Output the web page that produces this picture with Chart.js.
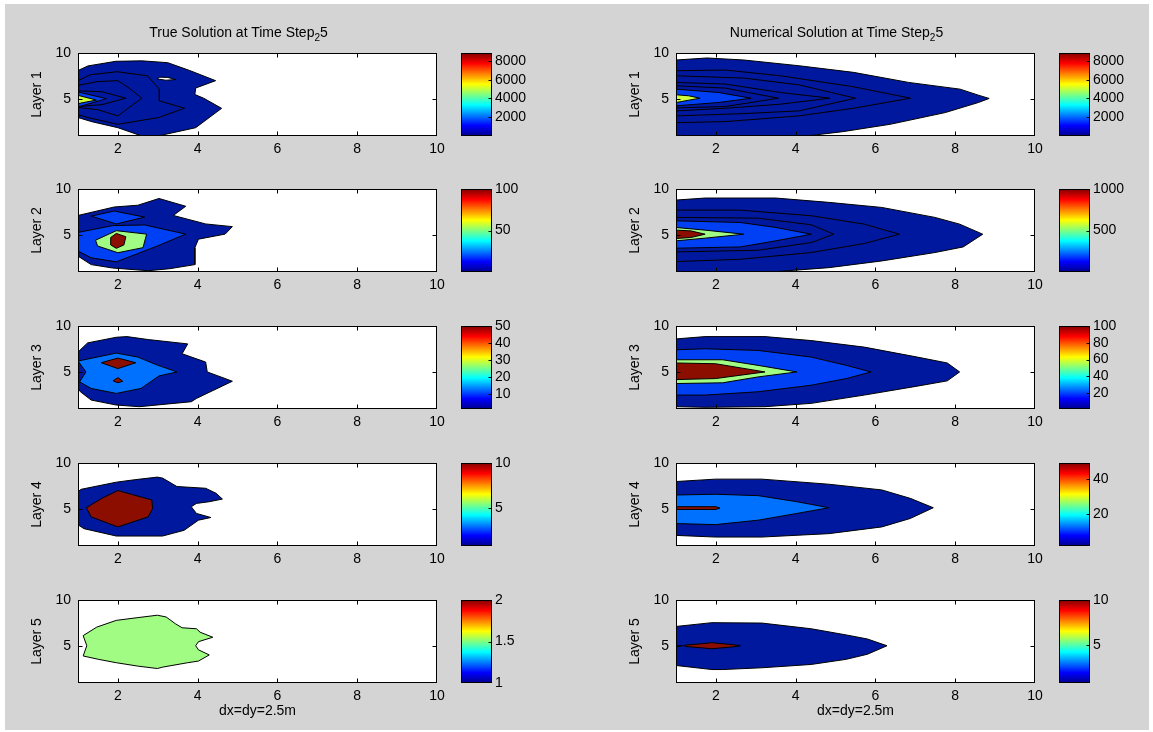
<!DOCTYPE html>
<html><head><meta charset="utf-8">
<script src="https://cdn.jsdelivr.net/npm/chart.js@4.4.1/dist/chart.umd.min.js"></script>
<style>
html,body{margin:0;padding:0;background:#fff;width:1153px;height:732px;overflow:hidden;}
#fig{position:absolute;left:5px;top:4px;width:1144px;height:726px;background:#d4d4d4;}
canvas{position:absolute;}
.ttl{position:absolute;top:24px;height:16px;line-height:16px;white-space:nowrap;transform:translateX(-50%);
 font-family:'Liberation Sans',Arial,Helvetica,sans-serif;font-size:14px;color:#000;}
.ttl sub{font-size:10px;vertical-align:-4px;line-height:0;}
</style></head><body>
<div id="fig"></div>
<script>
// ---------- tick labels / texts ----------
const X_TICKS = [2,4,6,8,10];
const Y_TICKS = [5,10];
const ROW_LABELS = ['Layer 1','Layer 2','Layer 3','Layer 4','Layer 5'];
const X_LABEL = 'dx=dy=2.5m';
const TITLE_MAIN = ['True Solution at Time Step','Numerical Solution at Time Step'];
const TITLE_SUB = '2';
const TITLE_END = '5';

// ---------- colorbar ranges and ticks ----------
const CB_RANGE_TRUE = [[0,8850],[0,100],[1,50],[0.8,10],[1,2]];
const CB_TICKS_TRUE = [[2000,4000,6000,8000],[50,100],[10,20,30,40,50],[5,10],[1,1.5,2]];
const CB_RANGE_NUM  = [[0,8850],[0,1000],[1,100],[2,49],[0.75,10]];
const CB_TICKS_NUM  = [[2000,4000,6000,8000],[500,1000],[20,40,60,80,100],[20,40],[5,10]];

// ---------- contour polygons (x, y) : True solution ----------
const T1_outer = [[1,8.1],[1.25,8.6],[1.95,9.1],[2.6,9.15],[3.25,8.95],[3.8,8.1],[4.45,7.0],[3.95,6.2],[3.93,5.5],[4.15,5.1],[4.6,4.0],[3.95,1.9],[3.0,1.0],[2.6,1.0],[2.0,1.9],[1.35,2.55],[1,3.0]];
const T1_hole  = [[2.98,7.2],[3.05,7.38],[3.25,7.35],[3.45,7.12],[3.2,7.05]];
const T1_c2    = [[1,7.0],[1.31,7.64],[1.98,7.97],[2.74,7.53],[3.04,6.08],[3.04,4.81],[3.67,4.01],[3.02,3.0],[2.0,2.27],[1.3,2.95],[1,3.3]];
const T1_c3    = [[1,6.5],[1.5,6.9],[2.0,7.0],[2.28,6.2],[2.6,5.1],[2.28,4.09],[2.0,3.18],[1.5,3.85],[1,4.1]];
const T1_c4    = [[1,5.9],[1.6,5.8],[2.2,5.1],[1.6,4.4],[1,4.2]];
const T1_blue  = [[1,5.77],[1.71,5.05],[1,4.15]];
const T1_peak  = [[1,5.41],[1.46,4.9],[1,4.51]];

const T2_outer = [[1,7.13],[1.91,8.05],[2.5,8.24],[3.03,8.97],[3.7,8.13],[3.39,7.13],[4.2,6.21],[4.87,5.92],[4.69,5.11],[4.02,4.56],[3.93,3.64],[3.93,1.8],[3.3,1.36],[2.76,1.14],[1.87,1.43],[1.33,1.8],[1,2.72]];
const T2_top   = [[1.33,7.06],[1.91,7.61],[2.67,6.95],[1.96,6.21]];
const T2_mid   = [[1,5.29],[1.87,6.03],[2.67,6.1],[3.7,5.11],[2.99,3.82],[1.96,2.1],[1.33,2.54],[1,3.27]];
const T2_green = [[1.44,4.45],[1.96,5.48],[2.72,5.11],[2.63,3.64],[2.0,3.09],[1.49,3.82]];
const T2_peak  = [[1.82,4.74],[1.96,5.18],[2.2,4.82],[2.15,3.93],[1.96,3.57],[1.82,3.93]];

const T3_outer = [[1,7.17],[1.24,8.17],[1.96,8.78],[2.23,8.85],[2.76,8.53],[3.75,8.06],[3.61,6.99],[4.2,6.09],[4.24,5.02],[4.87,4.01],[3.97,2.15],[3.84,1.79],[2.54,1.25],[1.96,1.43],[1.33,1.97],[1.06,2.87],[1,3.2]];
const T3_mid   = [[1,6.2],[1.96,7.06],[2.5,6.63],[2.94,5.84],[3.48,5.02],[3.03,4.59],[2.58,3.23],[1.96,2.69],[1.33,3.23],[1.04,3.94],[1.2,5.02]];
const T3_peakA = [[1.58,6.02],[2.0,6.52],[2.45,6.02],[2.0,5.38]];
const T3_peakB = [[1.88,4.05],[2.0,4.41],[2.12,4.01],[2.0,3.85]];

const T4_outer = [[1.08,7.15],[1.96,7.92],[2.41,8.18],[2.99,8.47],[3.12,8.36],[3.48,7.45],[4.2,7.26],[4.46,6.72],[4.62,6.09],[4.29,5.8],[3.97,5.62],[3.84,5.26],[3.97,4.53],[4.33,4.09],[4.02,3.8],[3.66,2.7],[3.12,2.08],[1.96,2.08],[1.15,2.88],[1,3.3],[1,6.9]];
const T4_peak  = [[1.21,5.15],[1.6,6.17],[2.0,7.01],[2.85,5.99],[2.87,5.07],[2.76,4.16],[2.0,3.07],[1.33,4.16]];

const T5_outer = [[1.13,6.14],[1.47,7.06],[1.96,7.79],[2.5,8.09],[2.99,8.35],[3.21,8.16],[3.44,7.43],[3.61,6.99],[3.97,6.88],[4.06,6.51],[4.38,5.96],[4.02,5.48],[3.95,5.04],[4.02,4.6],[4.29,4.04],[4.02,3.38],[3.75,3.2],[3.12,2.72],[2.99,2.57],[2.5,2.83],[1.96,3.2],[1.51,3.57],[1.13,3.93],[1.22,5.04]];

// ---------- contour polygons (x, y) : Numerical solution ----------
const N1_outer = [[1,9.24],[1.78,9.46],[2.7,9.24],[4.08,8.62],[5.45,7.9],[6.83,6.81],[8.12,6.08],[8.58,5.43],[8.85,5.07],[8.58,4.63],[7.75,3.54],[6.37,2.27],[5.18,1.47],[4.26,1.0],[1,1.0]];
const N1_c2    = [[1,8.08],[2.24,8.15],[3.62,7.53],[5.45,6.34],[6.88,5.1],[5.45,4.01],[4.08,3.18],[2.24,2.56],[1,2.45]];
const N1_c3    = [[1,7.53],[2.7,7.28],[4.08,6.55],[5.5,5.1],[4.08,3.72],[2.7,3.43],[1,3.18]];
const N1_c4    = [[1,6.81],[2.24,6.63],[3.62,5.72],[4.86,5.1],[3.62,4.45],[2.24,4.01],[1,3.72]];
const N1_c5    = [[1,6.45],[2.24,6.19],[3.57,5.1],[2.24,4.2],[1,4.05]];
const N1_blue  = [[1,6.08],[2.06,5.72],[2.88,5.1],[2.06,4.63],[1,4.27]];
const N1_peak  = [[1,5.47],[1.32,5.36],[1.6,5.1],[1.32,4.88],[1,4.63]];

const N2_outer = [[1,8.8],[1.73,9.02],[3.5,9.02],[4.83,8.55],[6.16,8.0],[7.49,6.92],[8.11,6.19],[8.69,5.1],[8.2,3.72],[7.49,3.11],[6.16,2.2],[4.83,1.47],[3.5,1.04],[3.5,1],[1,1]];
const N2_c2    = [[1,7.71],[2.61,7.71],[4.39,7.1],[5.72,6.19],[6.6,5.1],[5.72,4.09],[4.39,3.11],[2.61,2.38],[1,2.13]];
const N2_c3    = [[1,6.92],[3.06,6.84],[4.39,6.12],[4.96,5.1],[4.39,4.19],[3.06,3.36],[1,3.18]];
const N2_blue  = [[1,6.55],[2.61,6.37],[3.5,5.83],[4.39,5.1],[3.5,4.38],[2.61,3.72],[1,3.58]];
const N2_green = [[1,5.83],[1.73,5.54],[2.7,5.1],[1.73,4.67],[1,4.38]];
const N2_peak  = [[1,5.54],[1.37,5.46],[1.73,5.1],[1.37,4.74],[1,4.63]];

const N3_outer = [[1,8.6],[1.73,8.85],[3.23,8.85],[4.39,8.42],[5.72,7.71],[7.05,6.63],[7.8,5.99],[8.11,5.02],[7.8,4.05],[7.05,3.48],[5.72,2.51],[4.39,1.61],[3.23,1.25],[1.73,1.18],[1,1.25]];
const N3_blue  = [[1,7.42],[1.73,7.53],[3.06,7.35],[4.39,6.63],[5.27,5.73],[5.89,5.02],[5.27,4.3],[4.39,3.58],[3.06,2.87],[1.73,2.51],[1,2.51]];
const N3_green = [[1,6.34],[2.17,6.34],[3.06,5.73],[4.03,5.02],[3.06,4.48],[2.17,3.84],[1,3.76]];
const N3_peak  = [[1,5.99],[1.99,5.91],[3.23,5.02],[1.99,4.3],[1,4.19]];

const N4_outer = [[1,7.99],[1.99,8.25],[3.15,8.25],[4.83,7.7],[6.16,7.08],[6.87,6.17],[7.45,5.15],[6.87,3.98],[6.16,3.07],[4.83,2.34],[3.15,1.97],[1.99,1.97],[1,2.15]];
const N4_blue  = [[1,6.53],[1.99,6.61],[3.06,6.46],[4.03,5.8],[4.83,5.15],[4.03,4.53],[3.06,3.8],[1.99,3.32],[1,3.43]];
const N4_peak  = [[1,5.26],[2.0,5.26],[2.1,5.11],[2.0,4.96],[1,4.96]];

const N5_outer = [[1,7.13],[1.9,7.54],[3.15,7.5],[4.39,6.88],[5.27,6.21],[5.8,5.77],[6.29,5.04],[5.8,4.12],[5.27,3.57],[4.39,3.01],[3.15,2.65],[2.17,2.46],[1.9,2.46],[1,2.9]];
const N5_line  = [[1,5.04],[2.61,5.04]];
const N5_peak  = [[1.24,5.11],[1.73,5.29],[1.9,5.37],[2.44,5.15],[2.61,5.04],[2.44,4.93],[1.9,4.71],[1.73,4.78],[1.24,4.96]];

// ---------- styles ----------
const DB = 'rgb(0,24,158)', MB = 'rgb(0,64,245)', LB = 'rgb(0,112,255)';
const GR = 'rgb(160,252,130)', RD = 'rgb(140,14,0)', YG = 'rgb(205,255,60)', WH = '#ffffff';
const JET = [[0,'rgb(0,0,140)'],[0.125,'rgb(0,0,255)'],[0.375,'rgb(0,255,255)'],[0.625,'rgb(255,255,0)'],[0.875,'rgb(255,0,0)'],[1,'rgb(128,0,0)']];

const TRUE_PLOTS = [
  [[T1_outer,DB],[T1_hole,WH],[T1_c2,DB],[T1_c3,DB],[T1_c4,DB],[T1_blue,MB],[T1_peak,YG]],
  [[T2_outer,DB],[T2_top,MB],[T2_mid,MB],[T2_green,GR],[T2_peak,RD]],
  [[T3_outer,DB],[T3_mid,LB],[T3_peakA,RD],[T3_peakB,RD]],
  [[T4_outer,DB],[T4_peak,RD]],
  [[T5_outer,GR]]
];
const NUM_PLOTS = [
  [[N1_outer,DB],[N1_c2,DB],[N1_c3,DB],[N1_c4,DB],[N1_c5,DB],[N1_blue,MB],[N1_peak,YG]],
  [[N2_outer,DB],[N2_c2,DB],[N2_c3,DB],[N2_blue,MB],[N2_green,GR],[N2_peak,RD]],
  [[N3_outer,DB],[N3_blue,MB],[N3_green,GR],[N3_peak,RD]],
  [[N4_outer,DB],[N4_blue,LB],[N4_peak,RD]],
  [[N5_outer,DB],[N5_line,null],[N5_peak,RD]]
];

// ---------- layout ----------
const FONT = "'Liberation Sans', Arial, Helvetica, sans-serif";
Chart.defaults.font.family = FONT;
Chart.defaults.font.size = 14;
Chart.defaults.color = '#000';
Chart.defaults.animation = false;

const ROW_TOP = [53,189,326,463,600];
const BOX_H = 83, BOX_W = 359;
const COL_LEFT = [78, 676];
const CB_LEFT = [461, 1059], CB_W = 31;
const Y_AXIS_W = 49, PAD_R = 16, PAD_T = 18, CB_PAD = 14;

function mk(left, top, w, h){
  const c = document.createElement('canvas');
  c.width = w; c.height = h;
  c.style.left = left + 'px'; c.style.top = top + 'px';
  c.style.width = w + 'px'; c.style.height = h + 'px';
  document.body.appendChild(c);
  return c;
}

const framePlugin = {
  id: 'frame',
  beforeDraw(chart){
    const a = chart.chartArea, c = chart.ctx;
    c.save(); c.fillStyle = '#fff'; c.fillRect(a.left, a.top, a.right - a.left, a.bottom - a.top); c.restore();
  },
  afterDraw(chart){
    const a = chart.chartArea, c = chart.ctx;
    const l = Math.round(a.left) + 0.5, r = Math.round(a.right) - 0.5, t = Math.round(a.top) + 0.5, b = Math.round(a.bottom) - 0.5;
    c.save(); c.strokeStyle = '#000'; c.lineWidth = 1;
    c.strokeRect(l, t, r - l, b - t);
    c.beginPath();
    const xs = chart.scales.x, ys = chart.scales.y;
    xs.ticks.forEach(tk => { const p = Math.round(xs.getPixelForValue(tk.value)) + 0.5;
      if (p > l + 1 && p < r - 1) { c.moveTo(p, t); c.lineTo(p, t + 4); c.moveTo(p, b); c.lineTo(p, b - 4); } });
    ys.ticks.forEach(tk => { const p = Math.round(ys.getPixelForValue(tk.value)) + 0.5;
      if (p > t + 1 && p < b - 1) { c.moveTo(l, p); c.lineTo(l + 4, p); c.moveTo(r, p); c.lineTo(r - 4, p); } });
    c.stroke(); c.restore();
  }
};

const cbFrame = {
  id: 'cbframe',
  afterDraw(chart){
    const a = chart.chartArea, c = chart.ctx;
    const l = Math.round(a.left) + 0.5, r = Math.round(a.right) - 0.5, t = Math.round(a.top) + 0.5, b = Math.round(a.bottom) - 0.5;
    c.save(); c.strokeStyle = '#000'; c.lineWidth = 1;
    c.strokeRect(l, t, r - l, b - t);
    c.beginPath();
    const ys = chart.scales.y;
    ys.ticks.forEach(tk => { const p = Math.round(ys.getPixelForValue(tk.value)) + 0.5;
      if (p > t + 1 && p < b - 1) { c.moveTo(r, p); c.lineTo(r - 3, p); } });
    c.stroke(); c.restore();
  }
};

function jetFill(ctx){
  const a = ctx.chart.chartArea;
  if (!a) return DB;
  const g = ctx.chart.ctx.createLinearGradient(0, a.bottom, 0, a.top);
  JET.forEach(s => g.addColorStop(s[0], s[1]));
  return g;
}

function ds(poly, color, i){
  const pts = poly.map(p => ({x: p[0], y: p[1]}));
  if (color) pts.push({x: poly[0][0], y: poly[0][1]});
  return {data: pts, backgroundColor: color || 'rgba(0,0,0,0)', fill: color ? 'shape' : false,
    borderColor: '#000', borderWidth: 1, pointRadius: 0, pointHoverRadius: 0, tension: 0, order: -i};
}

function makePlot(boxLeft, boxTop, row, polys){
  const isBottom = row === 4;
  const xH = isBottom ? 37 : 24;
  const W = Y_AXIS_W + BOX_W + PAD_R, H = PAD_T + BOX_H + xH;
  const cv = mk(boxLeft - Y_AXIS_W, boxTop - PAD_T, W, H);
  new Chart(cv, {
    type: 'line',
    data: {datasets: polys.map((p, i) => ds(p[0], p[1], i))},
    options: {
      responsive: false, animation: false, events: [],
      layout: {padding: {left: 0, right: PAD_R, top: PAD_T, bottom: 0}},
      plugins: {legend: {display: false}, tooltip: {enabled: false}},
      scales: {
        x: {type: 'linear', min: 1, max: 10,
          afterFit(s){ s.height = xH; },
          afterBuildTicks(s){ s.ticks = X_TICKS.map(v => ({value: v})); },
          grid: {display: false, drawTicks: false}, border: {display: false},
          ticks: {padding: 5, maxRotation: 0, autoSkip: false, callback: v => String(v), font: {size: 14, lineHeight: '16px'}},
          title: {display: isBottom, text: X_LABEL, padding: 0, font: {size: 14}}},
        y: {type: 'linear', min: 1, max: 10,
          afterFit(s){ s.width = Y_AXIS_W; },
          afterBuildTicks(s){ s.ticks = Y_TICKS.map(v => ({value: v})); },
          grid: {display: false, drawTicks: false}, border: {display: false},
          ticks: {padding: 7, callback: v => String(v), font: {size: 14}},
          title: {display: true, text: ROW_LABELS[row], padding: 0, font: {size: 14}}}
      }
    },
    plugins: [framePlugin]
  });
}

function makeColorbar(cbLeft, boxTop, range, ticks){
  const cv = mk(cbLeft, boxTop - CB_PAD, CB_W + 50, BOX_H + 2 * CB_PAD);
  new Chart(cv, {
    type: 'bar',
    data: {labels: ['c'], datasets: [{data: [[range[0], range[1]]], backgroundColor: jetFill, borderWidth: 0,
      barPercentage: 1, categoryPercentage: 1}]},
    options: {
      responsive: false, animation: false, events: [],
      layout: {padding: {left: 0, right: 0, top: CB_PAD, bottom: CB_PAD}},
      plugins: {legend: {display: false}, tooltip: {enabled: false}},
      scales: {
        x: {display: false},
        y: {position: 'right', min: range[0], max: range[1],
          afterFit(s){ s.width = 50; },
          afterBuildTicks(s){ s.ticks = ticks.map(v => ({value: v})); },
          grid: {display: false, drawTicks: false}, border: {display: false},
          ticks: {padding: 3, callback: v => String(v), font: {size: 14}}}
      }
    },
    plugins: [cbFrame]
  });
}

for (let r = 0; r < 5; r++) {
  makePlot(COL_LEFT[0], ROW_TOP[r], r, TRUE_PLOTS[r]);
  makePlot(COL_LEFT[1], ROW_TOP[r], r, NUM_PLOTS[r]);
  makeColorbar(CB_LEFT[0], ROW_TOP[r], CB_RANGE_TRUE[r], CB_TICKS_TRUE[r]);
  makeColorbar(CB_LEFT[1], ROW_TOP[r], CB_RANGE_NUM[r], CB_TICKS_NUM[r]);
}

// column titles
[0,1].forEach(i => {
  const d = document.createElement('div');
  d.className = 'ttl';
  d.style.left = (COL_LEFT[i] + BOX_W / 2 - 19) + 'px';
  d.innerHTML = TITLE_MAIN[i] + '<sub>' + TITLE_SUB + '</sub>' + TITLE_END;
  document.body.appendChild(d);
});
</script>
</body></html>
